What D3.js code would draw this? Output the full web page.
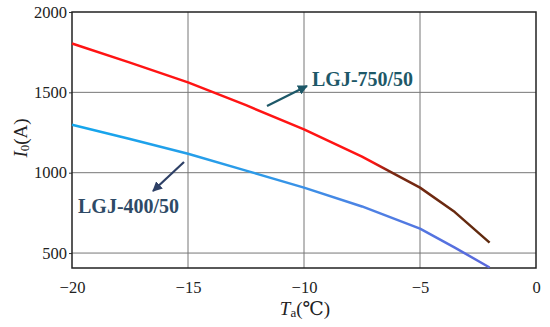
<!DOCTYPE html>
<html>
<head>
<meta charset="utf-8">
<script src="https://cdn.jsdelivr.net/npm/d3@7"></script>
<style>
  body { margin: 0; background: #fff; }
  svg text { font-family: "Liberation Serif", "DejaVu Serif", serif; }
</style>
</head>
<body>
<div id="chart"></div>
<script>
var temps = [-20, -17.5, -15, -12.5, -10, -7.5, -5, -3.5, -2];
var lgj750 = [1804, 1685, 1562, 1420, 1270, 1100, 907, 755, 565];
var lgj400 = [1298, 1210, 1118, 1013, 907, 790, 652, 534, 410];
var xTicks = [-20, -15, -10, -5, 0];
var yTicks = [500, 1000, 1500, 2000];

var margin = {top: 12, right: 14, bottom: 59, left: 72},
    width = 550 - margin.left - margin.right,
    height = 327 - margin.top - margin.bottom;

var svg = d3.select("#chart")
  .append("svg")
  .attr("width", 550)
  .attr("height", 327);

var defs = svg.append("defs");

var g = svg.append("g")
  .attr("transform", "translate(" + margin.left + "," + margin.top + ")");

var x = d3.scaleLinear().domain([-20, 0]).range([0, width]);
var y = d3.scaleLinear().domain([407, 2000]).range([height, 0]);

// grid
g.append("g")
  .selectAll("line")
  .data(xTicks.slice(1, -1))
  .enter().append("line")
  .attr("x1", function(d) { return x(d); })
  .attr("x2", function(d) { return x(d); })
  .attr("y1", 0).attr("y2", height)
  .attr("stroke", "#777").attr("stroke-width", 1);

g.append("g")
  .selectAll("line")
  .data(yTicks.slice(0, -1))
  .enter().append("line")
  .attr("x1", 0).attr("x2", width)
  .attr("y1", function(d) { return y(d); })
  .attr("y2", function(d) { return y(d); })
  .attr("stroke", "#777").attr("stroke-width", 1);

// axes
var xAxis = g.append("g")
  .attr("transform", "translate(0," + height + ")")
  .call(d3.axisBottom(x).tickValues(xTicks).tickSize(0).tickPadding(13)
    .tickFormat(function(d) { return d < 0 ? "\u2212" + Math.abs(d) : d; }));
var yAxis = g.append("g")
  .call(d3.axisLeft(y).tickValues(yTicks).tickSize(3).tickPadding(2)
    .tickFormat(d3.format("d")));

[xAxis, yAxis].forEach(function(a) {
  a.attr("font-family", null);
  a.select(".domain").remove();
  a.selectAll("text")
    .style("font-family", "'Liberation Serif', serif")
    .style("font-size", "16.5px")
    .attr("fill", "#222");
  a.selectAll("line").attr("stroke", "#333");
});

g.append("rect")
  .attr("width", width).attr("height", height)
  .attr("fill", "none").attr("stroke", "#222").attr("stroke-width", 1.5);

// gradients for the curves
var redGrad = defs.append("linearGradient")
  .attr("id", "redGrad").attr("gradientUnits", "userSpaceOnUse")
  .attr("x1", x(-20)).attr("x2", x(-2)).attr("y1", 0).attr("y2", 0);
redGrad.append("stop").attr("offset", 0.72).attr("stop-color", "#ff1414");
redGrad.append("stop").attr("offset", 0.76).attr("stop-color", "#7a2812");
redGrad.append("stop").attr("offset", 1).attr("stop-color", "#5e2a0e");

var blueGrad = defs.append("linearGradient")
  .attr("id", "blueGrad").attr("gradientUnits", "userSpaceOnUse")
  .attr("x1", x(-20)).attr("x2", x(-2)).attr("y1", 0).attr("y2", 0);
blueGrad.append("stop").attr("offset", 0).attr("stop-color", "#14a6ec");
blueGrad.append("stop").attr("offset", 0.45).attr("stop-color", "#2e9ae8");
blueGrad.append("stop").attr("offset", 0.7).attr("stop-color", "#4d82e4");
blueGrad.append("stop").attr("offset", 1).attr("stop-color", "#5a68dc");

var line = d3.line()
  .x(function(d) { return x(d[0]); })
  .y(function(d) { return y(d[1]); });

g.append("path")
  .datum(d3.zip(temps, lgj750))
  .attr("fill", "none")
  .attr("stroke", "url(#redGrad)")
  .attr("stroke-width", 2.5)
  .attr("stroke-linejoin", "round")
  .attr("d", line);

g.append("path")
  .datum(d3.zip(temps, lgj400))
  .attr("fill", "none")
  .attr("stroke", "url(#blueGrad)")
  .attr("stroke-width", 2.5)
  .attr("stroke-linejoin", "round")
  .attr("d", line);

// annotations
function arrow(id, color) {
  defs.append("marker")
    .attr("id", id)
    .attr("viewBox", "0 0 10 10")
    .attr("refX", 9).attr("refY", 5)
    .attr("markerWidth", 4.5).attr("markerHeight", 4.5)
    .attr("markerUnits", "strokeWidth")
    .attr("orient", "auto")
    .append("path")
    .attr("d", "M0,0 L10,5 L0,10 Z")
    .attr("fill", color);
}
arrow("a750", "#1d5868");
arrow("a400", "#2e4066");

svg.append("line")
  .attr("x1", 267).attr("y1", 106).attr("x2", 307).attr("y2", 86)
  .attr("stroke", "#1d5868").attr("stroke-width", 2.2)
  .attr("marker-end", "url(#a750)");
svg.append("text")
  .attr("x", 312).attr("y", 86)
  .attr("font-size", 20).attr("font-weight", "bold").attr("fill", "#1d5868")
  .text("LGJ-750/50");

svg.append("line")
  .attr("x1", 184).attr("y1", 162).attr("x2", 153).attr("y2", 191)
  .attr("stroke", "#2e4066").attr("stroke-width", 2.2)
  .attr("marker-end", "url(#a400)");
svg.append("text")
  .attr("x", 78).attr("y", 213)
  .attr("font-size", 20).attr("font-weight", "bold").attr("fill", "#2e4a66")
  .text("LGJ-400/50");

// axis titles
var xt = svg.append("text")
  .attr("x", 305).attr("y", 315)
  .attr("text-anchor", "middle")
  .attr("font-size", 19).attr("fill", "#222");
xt.append("tspan").attr("font-style", "italic").text("T");
xt.append("tspan").attr("font-size", 13).attr("dy", 2).text("a");
xt.append("tspan").attr("dy", -2).text("(\u2103)");

var yt = svg.append("text")
  .attr("transform", "translate(27,138) rotate(-90)")
  .attr("text-anchor", "middle")
  .attr("font-size", 19).attr("fill", "#222");
yt.append("tspan").attr("font-style", "italic").text("I");
yt.append("tspan").attr("font-size", 13).attr("dy", 2).text("0");
yt.append("tspan").attr("dy", -2).text("(A)");
</script>
</body>
</html>
